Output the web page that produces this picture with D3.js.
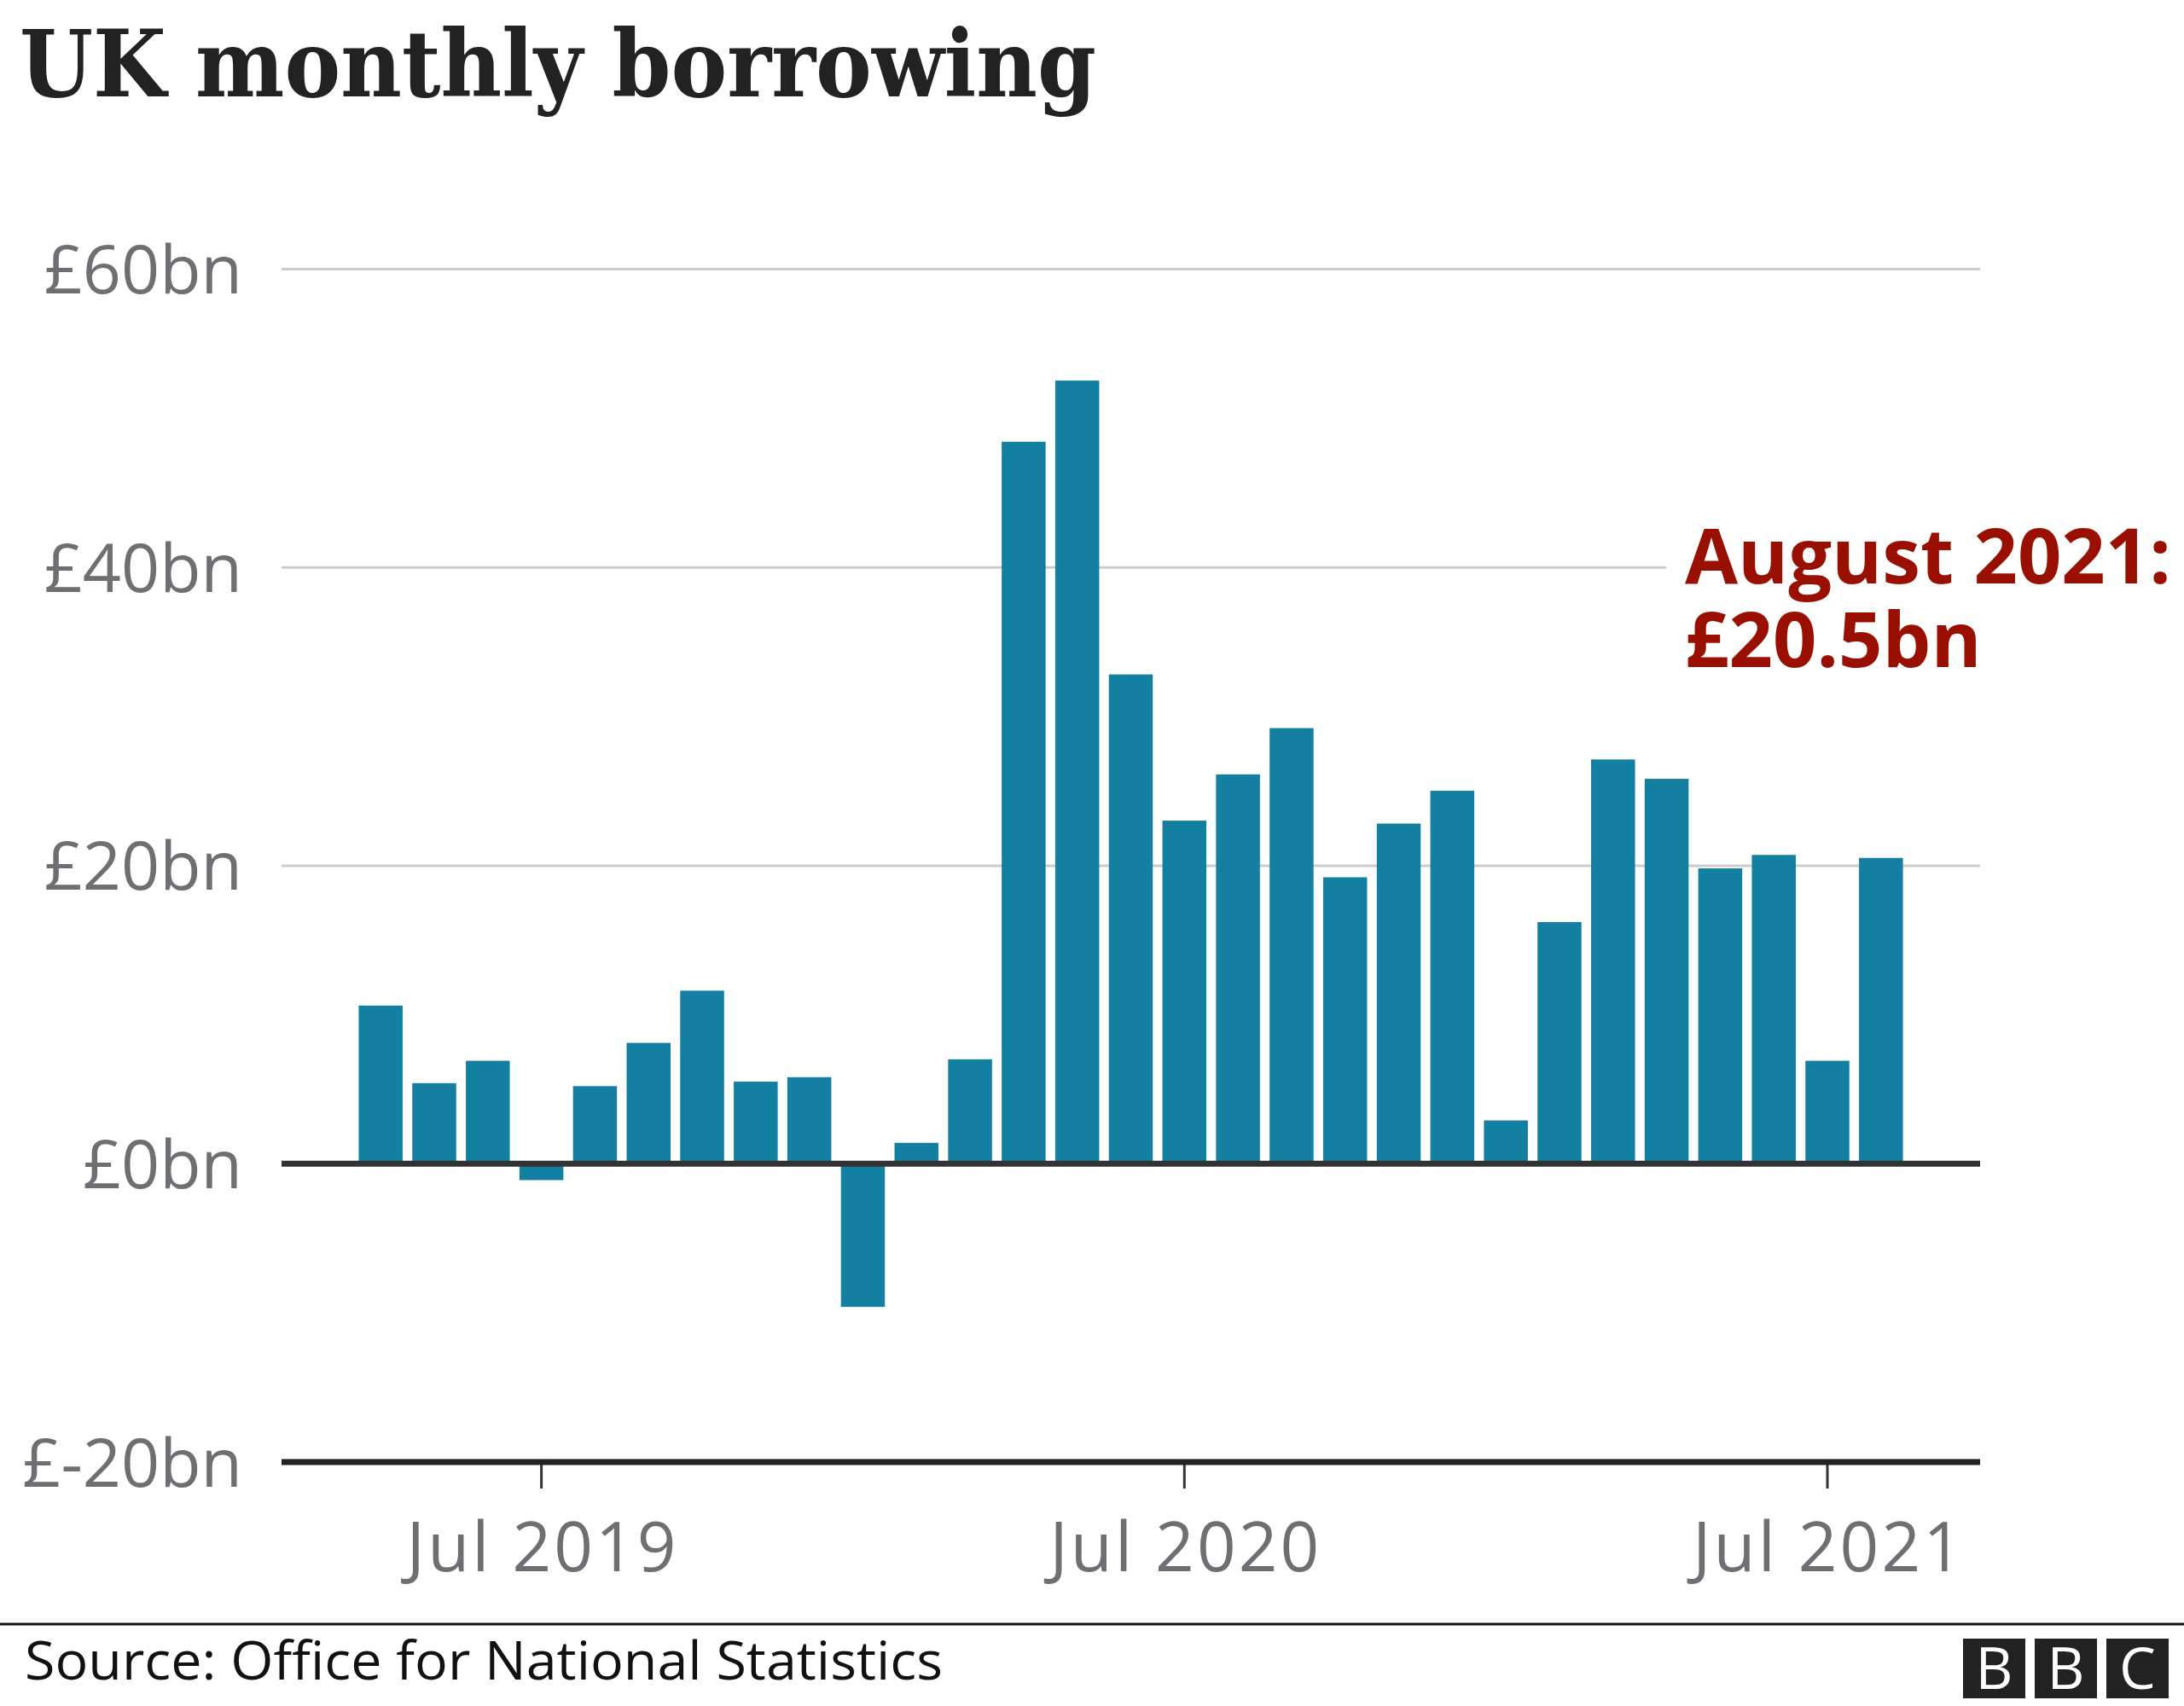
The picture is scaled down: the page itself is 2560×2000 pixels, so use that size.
<!DOCTYPE html>
<html>
<head>
<meta charset="utf-8">
<script src="https://cdn.jsdelivr.net/npm/d3@7"></script>
<style>
  html, body { margin: 0; padding: 0; background: #fff; }
  svg { display: block; }
</style>
</head>
<body>
<svg id="chart" width="2560" height="2000"></svg>
<script>
// ---- Data ----
const months = [
  "Apr 2019","May 2019","Jun 2019","Jul 2019","Aug 2019","Sep 2019","Oct 2019","Nov 2019","Dec 2019",
  "Jan 2020","Feb 2020","Mar 2020","Apr 2020","May 2020","Jun 2020","Jul 2020","Aug 2020","Sep 2020",
  "Oct 2020","Nov 2020","Dec 2020","Jan 2021","Feb 2021","Mar 2021","Apr 2021","May 2021","Jun 2021",
  "Jul 2021","Aug 2021"
];
const borrowing = [
  10.6, 5.4, 6.9, -1.1, 5.2, 8.1, 11.6, 5.5, 5.8,
  -9.6, 1.4, 7.0, 48.4, 52.5, 32.8, 23.0, 26.1, 29.2,
  19.2, 22.8, 25.0, 2.9, 16.2, 27.1, 25.8, 19.8, 20.7,
  6.9, 20.5
];
const yTickValues = [-20, 0, 20, 40, 60];
const yTickLabels = ["£-20bn", "£0bn", "£20bn", "£40bn", "£60bn"];
const xTickValues = ["Jul 2019", "Jul 2020", "Jul 2021"];
const xTickLabels = ["Jul 2019", "Jul 2020", "Jul 2021"];
const titleText = "UK monthly borrowing";
const annotationLines = ["August 2021:", "£20.5bn"];
const sourceText = "Source: Office for National Statistics";

// ---- Layout ----
const plotLeft = 330, plotRight = 2321, plotTop = 315, plotBottom = 1714;
const svg = d3.select("#chart");

const x = d3.scaleBand()
  .domain(months)
  .range([plotLeft, plotRight])
  .paddingInner(0.18)
  .paddingOuter(1.44);

const y = d3.scaleLinear()
  .domain([-20, 60])
  .range([plotBottom, plotTop]);

const sansFont = "'Open Sans', 'DejaVu Sans', sans-serif";

// Title
svg.append("text")
  .attr("x", 23).attr("y", 113)
  .attr("font-family", "'DejaVu Serif', 'Liberation Serif', serif")
  .attr("font-weight", 700)
  .attr("font-size", 108)
  .attr("fill", "#222")
  .attr("textLength", 1262)
  .attr("lengthAdjust", "spacingAndGlyphs")
  .text(titleText);

// Y axis with gridlines
const yAxis = d3.axisLeft(y)
  .tickValues(yTickValues)
  .tickFormat((d, i) => yTickLabels[i])
  .tickSize(-(plotRight - plotLeft))
  .tickPadding(46);

const gy = svg.append("g")
  .attr("transform", `translate(${plotLeft},0)`)
  .call(yAxis);
gy.select(".domain").remove();
gy.selectAll(".tick line")
  .attr("stroke", "#cccccc")
  .attr("stroke-width", 3);
gy.selectAll(".tick text")
  .attr("font-family", sansFont)
  .attr("font-size", 79)
  .attr("fill", "#6e6e73")
  .attr("dy", "0.36em");

// Bars
svg.append("g")
  .selectAll("rect")
  .data(borrowing)
  .join("rect")
  .attr("x", (d, i) => x(months[i]))
  .attr("width", x.bandwidth())
  .attr("y", d => d >= 0 ? y(d) : y(0))
  .attr("height", d => Math.abs(y(d) - y(0)))
  .attr("fill", "#1380a1");

// Zero line drawn on top of bars
svg.append("line")
  .attr("x1", plotLeft).attr("x2", plotRight)
  .attr("y1", y(0)).attr("y2", y(0))
  .attr("stroke", "#333")
  .attr("stroke-width", 7);

// X axis
const xAxis = d3.axisBottom(x)
  .tickValues(xTickValues)
  .tickFormat((d, i) => xTickLabels[i])
  .tickSize(31)
  .tickSizeOuter(0);

const gx = svg.append("g")
  .attr("transform", `translate(0,${y(-20)})`)
  .call(xAxis);
gx.select(".domain").remove();
gx.selectAll(".tick line")
  .attr("stroke", "#333")
  .attr("stroke-width", 3);
gx.selectAll(".tick text")
  .attr("font-family", sansFont)
  .attr("font-size", 80)
  .attr("fill", "#6e6e73")
  .attr("y", 128)
  .attr("dy", null)
  .attr("textLength", 316)
  .attr("lengthAdjust", "spacing");

svg.append("line")
  .attr("x1", plotLeft).attr("x2", plotRight)
  .attr("y1", y(-20)).attr("y2", y(-20))
  .attr("stroke", "#222")
  .attr("stroke-width", 7);

// Annotation with white knockout behind it
const annX = 1975;
const knock = svg.append("rect").attr("fill", "#fff");
const ann = svg.append("text")
  .attr("x", annX).attr("y", 684)
  .attr("font-family", sansFont)
  .attr("font-weight", 700)
  .attr("font-size", 90)
  .attr("fill", "#990f00");
ann.selectAll("tspan")
  .data(annotationLines)
  .join("tspan")
  .attr("x", annX)
  .attr("dy", (d, i) => i === 0 ? 0 : 98)
  .text(d => d);
const bb = ann.node().getBBox();
knock.attr("x", bb.x - 22).attr("y", bb.y).attr("width", 2560 - bb.x + 22).attr("height", bb.height);

// Footer
svg.append("line")
  .attr("x1", 0).attr("x2", 2560)
  .attr("y1", 1904).attr("y2", 1904)
  .attr("stroke", "#111")
  .attr("stroke-width", 3);

svg.append("text")
  .attr("x", 29).attr("y", 1969)
  .attr("font-family", sansFont)
  .attr("font-size", 62)
  .attr("fill", "#111")
  .attr("textLength", 1076)
  .attr("lengthAdjust", "spacingAndGlyphs")
  .text(sourceText);

// BBC logo
const logoLetters = ["B", "B", "C"];
const logo = svg.append("g").attr("transform", "translate(2301,1921)");
logoLetters.forEach((l, i) => {
  logo.append("rect")
    .attr("x", i * 84).attr("y", 0)
    .attr("width", 73).attr("height", 70)
    .attr("fill", "#222");
  logo.append("text")
    .attr("x", i * 84 + 36.5).attr("y", 59)
    .attr("text-anchor", "middle")
    .attr("font-family", "'Open Sans', sans-serif")
    .attr("font-weight", 500)
    .attr("font-size", 68)
    .attr("fill", "#fff")
    .text(l);
});
</script>
</body>
</html>
